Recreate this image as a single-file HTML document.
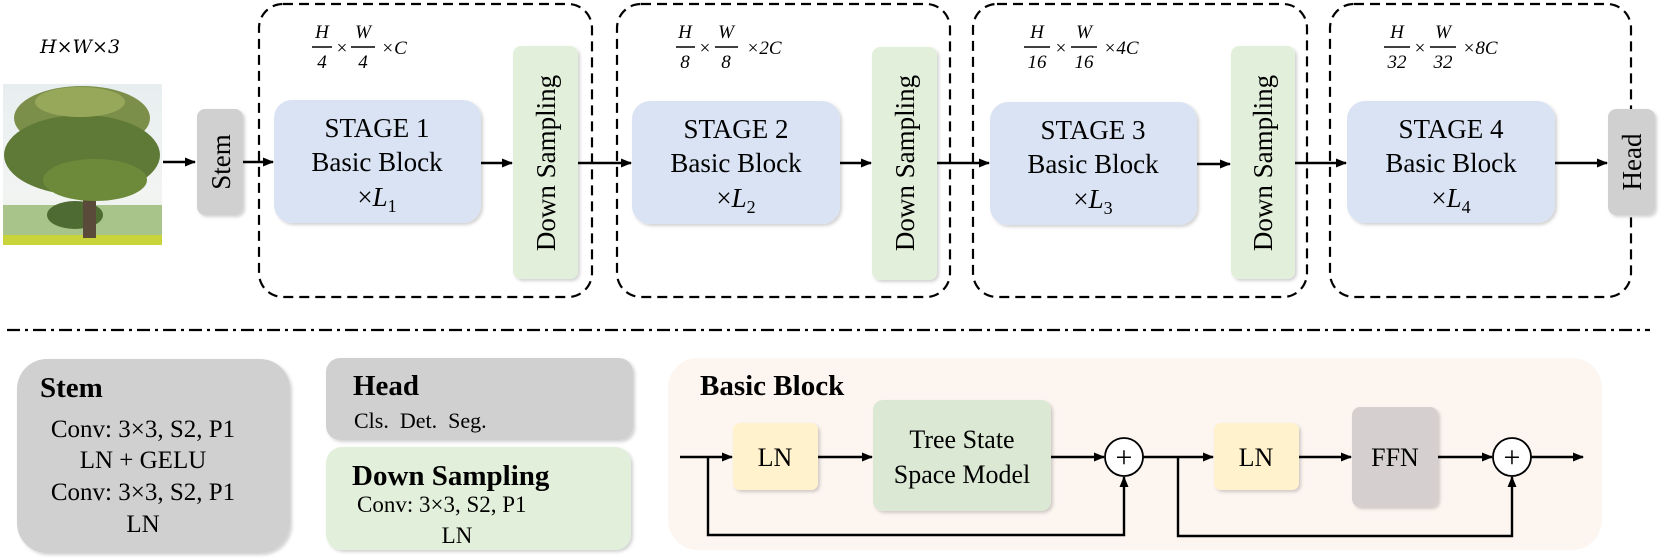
<!DOCTYPE html>
<html><head><meta charset="utf-8"><style>
html,body{margin:0;padding:0;background:#fff;}
svg{display:block;}
text{font-family:"Liberation Serif",serif;fill:#000;}
.m{font-family:"DejaVu Serif","Liberation Serif",serif;font-style:italic;}
</style></head><body>
<svg width="1661" height="558" viewBox="0 0 1661 558" xmlns="http://www.w3.org/2000/svg">
<defs>
<marker id="a" markerWidth="12" markerHeight="12" refX="10" refY="5.5" orient="auto" markerUnits="userSpaceOnUse"><path d="M0,1 L11,5.5 L0,10 Z" fill="#000"/></marker>
<filter id="s" x="-10%" y="-10%" width="125%" height="125%"><feDropShadow dx="2" dy="2" stdDeviation="1.5" flood-color="#000" flood-opacity="0.18"/></filter>
<linearGradient id="sky" x1="0" y1="0" x2="0" y2="1"><stop offset="0" stop-color="#e8eef0"/><stop offset="0.7" stop-color="#f2f4f2"/><stop offset="1" stop-color="#dfe6d8"/></linearGradient>
</defs>

<rect x="3" y="84" width="159" height="161" fill="url(#sky)"/>
<rect x="3" y="205" width="159" height="32" fill="#a9c48a"/>
<ellipse cx="75" cy="215" rx="28" ry="14" fill="#4e6b33"/>
<rect x="3" y="235" width="159" height="10" fill="#c8d43a"/>
<rect x="83" y="190" width="13" height="48" fill="#5a4a3a"/>
<ellipse cx="82" cy="118" rx="68" ry="32" fill="#7c8f4a"/>
<ellipse cx="82" cy="155" rx="78" ry="40" fill="#5f7a36"/>
<ellipse cx="95" cy="180" rx="52" ry="21" fill="#6c8a3a"/>
<ellipse cx="80" cy="102" rx="45" ry="15" fill="#98a85a"/>

<text x="40" y="53" class="m" font-size="19">H×W×3</text>

<line x1="163" y1="162" x2="195" y2="162" stroke="#000" stroke-width="2.4" marker-end="url(#a)"/>
<rect x="197" y="109" width="46" height="106" rx="8" fill="#d0d0d0" filter="url(#s)"/>
<text transform="translate(230,162) rotate(-90)" text-anchor="middle" font-size="27">Stem</text>
<line x1="243" y1="162" x2="273" y2="162" stroke="#000" stroke-width="2.4" marker-end="url(#a)"/>

<g fill="none" stroke="#000" stroke-width="2.2" stroke-dasharray="10,6">
<rect x="259" y="4" width="333" height="293" rx="24"/>
<rect x="617" y="4" width="333" height="293" rx="24"/>
<rect x="973" y="4" width="334" height="293" rx="24"/>
<rect x="1330" y="4" width="301" height="293" rx="24"/>
</g>

<g filter="url(#s)">
<rect x="274" y="100" width="207" height="123" rx="18" fill="#dae3f3"/>
<rect x="632" y="101" width="208" height="123" rx="18" fill="#dae3f3"/>
<rect x="990" y="102" width="207" height="123" rx="18" fill="#dae3f3"/>
<rect x="1347" y="101" width="208" height="122" rx="18" fill="#dae3f3"/>
<rect x="513" y="46" width="65" height="233" rx="8" fill="#e2efda"/>
<rect x="872" y="47" width="65" height="233" rx="8" fill="#e2efda"/>
<rect x="1231" y="46" width="64" height="233" rx="8" fill="#e2efda"/>
<rect x="1608" y="109" width="47" height="106" rx="8" fill="#d0d0d0"/>
</g>

<g font-size="27" text-anchor="middle">
<text x="377" y="137">STAGE 1</text><text x="377" y="171">Basic Block</text>
<text x="736" y="138">STAGE 2</text><text x="736" y="172">Basic Block</text>
<text x="1093" y="139">STAGE 3</text><text x="1093" y="173">Basic Block</text>
<text x="1451" y="138">STAGE 4</text><text x="1451" y="172">Basic Block</text>
</g>
<g font-size="27" text-anchor="middle">
<text x="377" y="206">×<tspan font-style="italic">L</tspan><tspan font-size="18" dy="6">1</tspan></text>
<text x="736" y="207">×<tspan font-style="italic">L</tspan><tspan font-size="18" dy="6">2</tspan></text>
<text x="1093" y="208">×<tspan font-style="italic">L</tspan><tspan font-size="18" dy="6">3</tspan></text>
<text x="1451" y="207">×<tspan font-style="italic">L</tspan><tspan font-size="18" dy="6">4</tspan></text>
</g>
<g font-size="27" text-anchor="middle">
<text transform="translate(555,163) rotate(-90)">Down Sampling</text>
<text transform="translate(914,163) rotate(-90)">Down Sampling</text>
<text transform="translate(1272,163) rotate(-90)">Down Sampling</text>
<text transform="translate(1641,162) rotate(-90)">Head</text>
</g>

<g stroke="#000" stroke-width="2.4" marker-end="url(#a)">
<line x1="481" y1="163" x2="512" y2="163"/>
<line x1="578" y1="163" x2="631" y2="163"/>
<line x1="840" y1="163" x2="871" y2="163"/>
<line x1="937" y1="163" x2="989" y2="163"/>
<line x1="1197" y1="164" x2="1230" y2="164"/>
<line x1="1295" y1="163" x2="1346" y2="163"/>
<line x1="1555" y1="163" x2="1607" y2="163"/>
</g>

<g class="m" text-anchor="middle" font-size="19">
<text x="322" y="38">H</text><text x="322" y="68">4</text><line x1="312" y1="47" x2="332" y2="47" stroke="#000" stroke-width="1.4"/>
<text x="342" y="54" font-style="normal">×</text>
<text x="363" y="38">W</text><text x="363" y="68">4</text><line x1="351" y1="47" x2="375" y2="47" stroke="#000" stroke-width="1.4"/>
<text x="394" y="54">×C</text>

<text x="685" y="38">H</text><text x="685" y="68">8</text><line x1="676" y1="47" x2="695" y2="47" stroke="#000" stroke-width="1.4"/>
<text x="705" y="54" font-style="normal">×</text>
<text x="726" y="38">W</text><text x="726" y="68">8</text><line x1="715" y1="47" x2="738" y2="47" stroke="#000" stroke-width="1.4"/>
<text x="764" y="54">×2C</text>

<text x="1037" y="38">H</text><text x="1037" y="68">16</text><line x1="1024" y1="47" x2="1050" y2="47" stroke="#000" stroke-width="1.4"/>
<text x="1061" y="54" font-style="normal">×</text>
<text x="1084" y="38">W</text><text x="1084" y="68">16</text><line x1="1071" y1="47" x2="1097" y2="47" stroke="#000" stroke-width="1.4"/>
<text x="1121" y="54">×4C</text>

<text x="1397" y="38">H</text><text x="1397" y="68">32</text><line x1="1384" y1="47" x2="1410" y2="47" stroke="#000" stroke-width="1.4"/>
<text x="1420" y="54" font-style="normal">×</text>
<text x="1443" y="38">W</text><text x="1443" y="68">32</text><line x1="1430" y1="47" x2="1456" y2="47" stroke="#000" stroke-width="1.4"/>
<text x="1480" y="54">×8C</text>
</g>

<line x1="7" y1="330" x2="1650" y2="330" stroke="#000" stroke-width="2.2" stroke-dasharray="13,5,3,5"/>

<g filter="url(#s)">
<rect x="17" y="359" width="273" height="194" rx="30" fill="#d0d0d0"/>
<rect x="326" y="358" width="307" height="82" rx="14" fill="#d0d0d0"/>
<rect x="326" y="447" width="305" height="103" rx="16" fill="#e2efda"/>
</g>
<text x="40" y="397" font-size="29" font-weight="bold">Stem</text>
<g font-size="25" text-anchor="middle">
<text x="143" y="437">Conv: 3×3, S2, P1</text>
<text x="143" y="468">LN + GELU</text>
<text x="143" y="500">Conv: 3×3, S2, P1</text>
<text x="143" y="532">LN</text>
</g>
<text x="353" y="395" font-size="29" font-weight="bold">Head</text>
<text x="354" y="428" font-size="22">Cls.&#160;&#160;Det.&#160;&#160;Seg.</text>
<text x="352" y="485" font-size="29" font-weight="bold">Down Sampling</text>
<text x="357" y="512" font-size="23">Conv: 3×3, S2, P1</text>
<text x="457" y="543" font-size="23" text-anchor="middle">LN</text>

<rect x="668" y="358" width="934" height="192" rx="30" fill="#fdf5f0"/>
<text x="700" y="395" font-size="29" font-weight="bold">Basic Block</text>
<g filter="url(#s)">
<rect x="733" y="423" width="85" height="67" rx="7" fill="#fff2cc"/>
<rect x="873" y="400" width="178" height="111" rx="10" fill="#dbe8d4"/>
<rect x="1214" y="423" width="85" height="67" rx="7" fill="#fff2cc"/>
<rect x="1352" y="407" width="86" height="100" rx="8" fill="#d5d0cf"/>
</g>
<g font-size="26" text-anchor="middle">
<text x="775" y="466">LN</text>
<text x="962" y="448">Tree State</text>
<text x="962" y="483">Space Model</text>
<text x="1256" y="466">LN</text>
<text x="1395" y="466">FFN</text>
</g>
<g stroke="#000" stroke-width="2.4" fill="none">
<line x1="680" y1="457" x2="732" y2="457" marker-end="url(#a)"/>
<line x1="818" y1="457" x2="872" y2="457" marker-end="url(#a)"/>
<line x1="1051" y1="457" x2="1104" y2="457" marker-end="url(#a)"/>
<line x1="1143" y1="457" x2="1213" y2="457" marker-end="url(#a)"/>
<line x1="1299" y1="457" x2="1351" y2="457" marker-end="url(#a)"/>
<line x1="1438" y1="457" x2="1492" y2="457" marker-end="url(#a)"/>
<line x1="1531" y1="457" x2="1583" y2="457" marker-end="url(#a)"/>
<polyline points="708,457 708,535 1124,535 1124,477" marker-end="url(#a)"/>
<polyline points="1178,457 1178,536 1512,536 1512,477" marker-end="url(#a)"/>
<circle cx="1124" cy="457" r="19" fill="#fff" stroke-width="1.8"/>
<circle cx="1512" cy="457" r="19" fill="#fff" stroke-width="1.8"/>
</g>
<g font-size="30" text-anchor="middle"><text x="1124" y="467">+</text><text x="1512" y="467">+</text></g>
</svg>
</body></html>
